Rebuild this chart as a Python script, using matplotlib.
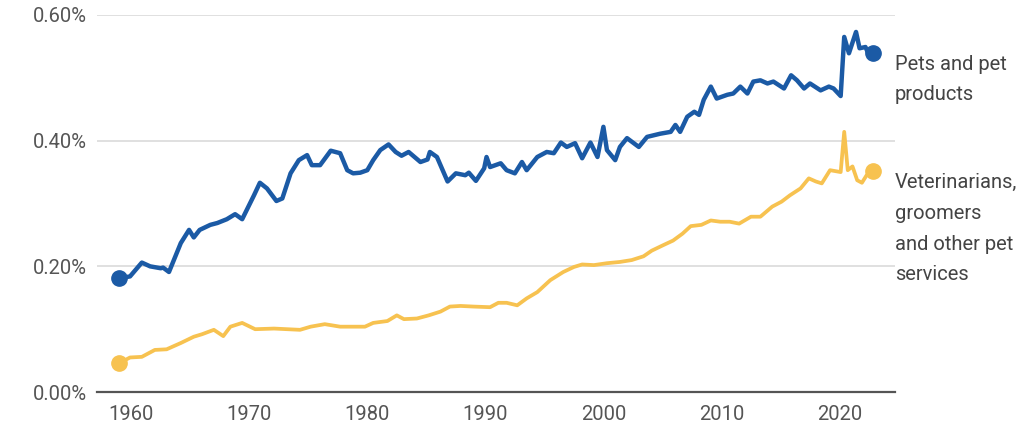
import matplotlib
matplotlib.use("Agg")
import matplotlib.pyplot as plt
from matplotlib.ticker import FuncFormatter

# ---- données (part des dépenses, en %) ----
annees_produits = [1959.0, 1959.9, 1960.9, 1961.6, 1962.5, 1962.7, 1963.2, 1964.2, 1964.9, 1965.3,
                   1965.8, 1966.7, 1967.3, 1968.1, 1968.8, 1969.4, 1970.4, 1970.9, 1971.5, 1972.3,
                   1972.8, 1973.5, 1974.2, 1974.9, 1975.3, 1976.0, 1976.9, 1977.7, 1978.3, 1978.8,
                   1979.4, 1980.0, 1980.5, 1981.1, 1981.8, 1982.4, 1982.9, 1983.5, 1984.5, 1985.1,
                   1985.3, 1985.9, 1986.8, 1987.5, 1988.3, 1988.6, 1989.2, 1989.9, 1990.1, 1990.4,
                   1991.3, 1991.8, 1992.5, 1993.1, 1993.5, 1994.4, 1995.2, 1995.8, 1996.4, 1996.9,
                   1997.6, 1998.2, 1998.9, 1999.5, 2000.0, 2000.3, 2001.0, 2001.4, 2002.0, 2003.0,
                   2003.7, 2004.8, 2005.7, 2006.1, 2006.5, 2007.1, 2007.7, 2008.1, 2008.5, 2009.1,
                   2009.6, 2010.5, 2011.0, 2011.6, 2012.2, 2012.7, 2013.3, 2013.9, 2014.4, 2015.3,
                   2015.9, 2016.4, 2017.0, 2017.5, 2018.4, 2019.1, 2019.5, 2020.1, 2020.4, 2020.8,
                   2021.4, 2021.7, 2022.2, 2022.5, 2022.8]
produits = [0.181, 0.184, 0.206, 0.200, 0.197, 0.198, 0.191, 0.237, 0.258, 0.246,
            0.258, 0.266, 0.269, 0.275, 0.283, 0.275, 0.313, 0.333, 0.324, 0.304,
            0.308, 0.348, 0.369, 0.377, 0.361, 0.361, 0.384, 0.380, 0.353, 0.348,
            0.349, 0.353, 0.369, 0.385, 0.394, 0.382, 0.376, 0.382, 0.366, 0.370,
            0.382, 0.374, 0.335, 0.348, 0.345, 0.349, 0.336, 0.356, 0.374, 0.358,
            0.364, 0.353, 0.348, 0.366, 0.353, 0.374, 0.382, 0.380, 0.397, 0.390,
            0.396, 0.372, 0.397, 0.374, 0.422, 0.385, 0.369, 0.390, 0.404, 0.390,
            0.406, 0.411, 0.414, 0.425, 0.414, 0.438, 0.446, 0.441, 0.465, 0.486,
            0.467, 0.473, 0.475, 0.486, 0.475, 0.494, 0.496, 0.491, 0.494, 0.483,
            0.504, 0.496, 0.483, 0.491, 0.480, 0.486, 0.483, 0.471, 0.565, 0.539,
            0.573, 0.547, 0.549, 0.536, 0.539]

annees_services = [1959.0, 1959.9, 1960.9, 1962.0, 1963.0, 1964.2, 1965.3, 1966.0, 1967.0, 1967.8,
                   1968.4, 1969.4, 1970.5, 1972.1, 1973.2, 1974.3, 1975.2, 1976.4, 1977.7, 1978.8,
                   1979.8, 1980.5, 1981.7, 1982.5, 1983.1, 1984.2, 1985.2, 1986.2, 1987.0, 1987.9,
                   1989.0, 1990.4, 1991.1, 1991.8, 1992.7, 1993.5, 1994.4, 1995.5, 1996.6, 1997.5,
                   1998.2, 1999.2, 2000.3, 2001.4, 2002.4, 2003.4, 2004.1, 2005.1, 2005.9, 2006.7,
                   2007.4, 2008.3, 2009.1, 2009.9, 2010.7, 2011.5, 2012.5, 2013.3, 2014.3, 2015.1,
                   2015.8, 2016.7, 2017.4, 2018.0, 2018.5, 2019.2, 2020.1, 2020.4, 2020.7, 2021.1,
                   2021.5, 2021.9, 2022.3, 2022.8]
services = [0.046, 0.055, 0.056, 0.067, 0.068, 0.078, 0.088, 0.092, 0.099, 0.089,
            0.104, 0.110, 0.100, 0.101, 0.100, 0.099, 0.104, 0.108, 0.104, 0.104,
            0.104, 0.110, 0.113, 0.122, 0.116, 0.117, 0.122, 0.128, 0.136, 0.137,
            0.136, 0.135, 0.142, 0.142, 0.138, 0.149, 0.159, 0.178, 0.191, 0.199,
            0.203, 0.202, 0.205, 0.207, 0.210, 0.216, 0.225, 0.234, 0.241, 0.252,
            0.264, 0.266, 0.273, 0.271, 0.271, 0.268, 0.279, 0.279, 0.295, 0.303,
            0.313, 0.324, 0.340, 0.335, 0.332, 0.353, 0.350, 0.414, 0.353, 0.359,
            0.337, 0.333, 0.345, 0.352]

etiquettes = ["Pets and pet\nproducts", "Veterinarians,\ngroomers\nand other pet\nservices"]
annees_ticks = [1960, 1970, 1980, 1990, 2000, 2010, 2020]
pct_ticks = [0.0, 0.2, 0.4, 0.6]

bleu = "#1b5aa5"
jaune = "#f7c250"
gris_texte = "#555555"

plt.rcParams["font.family"] = ["Roboto", "DejaVu Sans"]

fig = plt.figure(figsize=(10.24, 4.40), dpi=100)
ax = fig.add_axes([0.0947, 0.109, 0.7793, 0.857])

ax.plot(annees_services, services, color=jaune, linewidth=2.7, solid_joinstyle="round", zorder=3)
ax.plot(annees_produits, produits, color=bleu, linewidth=3.2, solid_joinstyle="round", zorder=4)
ax.plot(annees_services[0], services[0], "o", color=jaune, markersize=11, zorder=5)
ax.plot(annees_services[-1], services[-1], "o", color=jaune, markersize=11, zorder=5)
ax.plot(annees_produits[0], produits[0], "o", color=bleu, markersize=11, zorder=5)
ax.plot(annees_produits[-1], produits[-1], "o", color=bleu, markersize=11, zorder=5)

ax.set_xlim(1957.1, 2024.7)
ax.set_ylim(0, 0.6)
ax.set_xticks(annees_ticks)
ax.set_yticks(pct_ticks)
ax.yaxis.set_major_formatter(FuncFormatter(lambda v, p: f"{v:.2f}%"))

ax.grid(axis="y", color="#dddddd", linewidth=1.3)
ax.set_axisbelow(True)
for s in ["top", "right", "left"]:
    ax.spines[s].set_visible(False)
ax.spines["bottom"].set_color("#555555")
ax.spines["bottom"].set_linewidth(1.6)
ax.tick_params(axis="both", length=0, labelsize=14.5, labelcolor=gris_texte)
ax.tick_params(axis="x", pad=9)
ax.tick_params(axis="y", pad=7)

ax.text(1.0, produits[-1] - 0.002, etiquettes[0], transform=ax.get_yaxis_transform(),
        ha="left", va="top", fontsize=14.5, color="#444444", linespacing=1.78)
ax.text(1.0, services[-1] - 0.004, etiquettes[1], transform=ax.get_yaxis_transform(),
        ha="left", va="top", fontsize=14.5, color="#444444", linespacing=1.78)

fig.savefig("out.png", dpi=100)
